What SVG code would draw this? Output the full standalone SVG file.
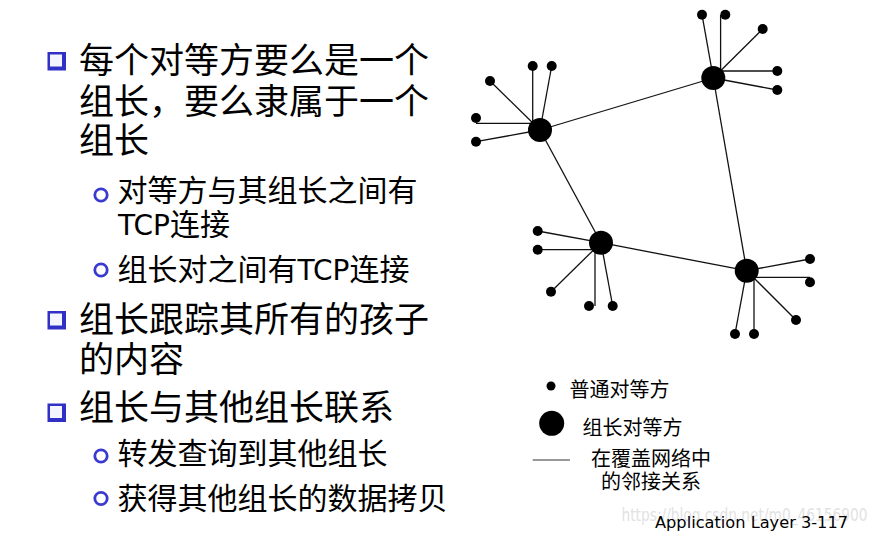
<svg xmlns="http://www.w3.org/2000/svg" width="879" height="535" viewBox="0 0 879 535">
<style>
.main{font-family:"Noto Sans CJK SC","Noto Sans",sans-serif;font-size:35px;fill:#000}
.sub{font-family:"Noto Sans CJK SC","Noto Sans",sans-serif;font-size:30px;fill:#000}
.lat{font-family:"DejaVu Sans","Noto Sans CJK SC",sans-serif;font-size:28px}
.leg{font-family:"Noto Sans CJK SC","Noto Sans",sans-serif;font-size:20px;fill:#000}
.foot{font-family:"DejaVu Sans",sans-serif;font-size:15px;fill:#000}
.wm{font-family:"DejaVu Sans",sans-serif;font-size:17px;fill:#e2e2e2}
.sqo{fill:#3030c4}
.sqi{fill:#f4f4ff}
.cb{fill:#fff;stroke:#3a3ad0;stroke-width:2.8}
.edge{stroke:#111;stroke-width:1.3;fill:none}
.leaf{fill:#000}
.lead{fill:#000}
</style>
<defs>
<g id="sq"><rect class="sqo" x="0" y="0" width="18.5" height="18.5"/><rect class="sqi" x="2.5" y="2.5" width="12" height="12"/></g>
<circle id="cbul" class="cb" cx="0" cy="0" r="6.2"/>
</defs>

<g id="bullets-text">
<use href="#sq" x="47.5" y="52"/>
<text class="main" x="79" y="73">每个对等方要么是一个</text>
<text class="main" x="79" y="114">组长，要么隶属于一个</text>
<text class="main" x="79" y="153">组长</text>

<use href="#cbul" x="101" y="195"/>
<text class="sub" x="117.5" y="200.5">对等方与其组长之间有</text>
<text class="sub" x="118" y="234.5"><tspan class="lat">TCP</tspan>连接</text>

<use href="#cbul" x="101" y="270"/>
<text class="sub" x="117.5" y="279.5">组长对之间有<tspan class="lat">TCP</tspan>连接</text>

<use href="#sq" x="47.5" y="311"/>
<text class="main" x="79" y="332">组长跟踪其所有的孩子</text>
<text class="main" x="79" y="372">的内容</text>

<use href="#sq" x="47.5" y="403.5"/>
<text class="main" x="79" y="420">组长与其他组长联系</text>

<use href="#cbul" x="101" y="456"/>
<text class="sub" x="117.5" y="464">转发查询到其他组长</text>

<use href="#cbul" x="101" y="498.5"/>
<text class="sub" x="117.5" y="509">获得其他组长的数据拷贝</text>
</g>

<g id="connectors">
<line class="edge" x1="540" y1="130" x2="713.3" y2="78"/>
<line class="edge" x1="540" y1="130" x2="601" y2="242.7"/>
<line class="edge" x1="713.3" y1="78" x2="746.7" y2="270.7"/>
<line class="edge" x1="601" y1="242.7" x2="746.7" y2="270.7"/>

<line class="edge" x1="490" y1="81" x2="540" y2="130"/>
<line class="edge" x1="532.7" y1="66" x2="532.7" y2="125"/>
<line class="edge" x1="551.7" y1="66" x2="540" y2="130"/>
<line class="edge" x1="476" y1="123.3" x2="536" y2="123.3"/>
<line class="edge" x1="476" y1="141.7" x2="540" y2="130"/>

<line class="edge" x1="702" y1="14.7" x2="713.3" y2="78"/>
<line class="edge" x1="720.6" y1="15" x2="720.6" y2="72"/>
<line class="edge" x1="762.7" y1="29" x2="713.3" y2="78"/>
<line class="edge" x1="713.3" y1="71" x2="777.3" y2="71"/>
<line class="edge" x1="777.3" y1="90" x2="713.3" y2="78"/>

<line class="edge" x1="537.7" y1="231" x2="601" y2="242.7"/>
<line class="edge" x1="537.7" y1="249.7" x2="596" y2="249.7"/>
<line class="edge" x1="551" y1="291.7" x2="601" y2="242.7"/>
<line class="edge" x1="595" y1="248" x2="595" y2="306"/>
<line class="edge" x1="612.7" y1="306" x2="601" y2="242.7"/>

<line class="edge" x1="810" y1="259" x2="746.7" y2="270.7"/>
<line class="edge" x1="746.7" y1="277.3" x2="810" y2="277.3"/>
<line class="edge" x1="796" y1="320" x2="746.7" y2="270.7"/>
<line class="edge" x1="735" y1="334" x2="746.7" y2="270.7"/>
<line class="edge" x1="754" y1="276" x2="754" y2="334"/>
</g>

<g id="leader-A"><circle class="lead" cx="540" cy="130" r="12"/></g>
<g id="leader-B"><circle class="lead" cx="713.3" cy="78" r="12"/></g>
<g id="leader-C"><circle class="lead" cx="601" cy="242.7" r="12"/></g>
<g id="leader-D"><circle class="lead" cx="746.7" cy="270.7" r="12"/></g>

<g id="peer-A1"><circle class="leaf" cx="490" cy="81" r="5"/></g>
<g id="peer-A2"><circle class="leaf" cx="532.7" cy="66" r="5"/></g>
<g id="peer-A3"><circle class="leaf" cx="551.7" cy="66" r="5"/></g>
<g id="peer-A4"><circle class="leaf" cx="476" cy="118" r="5"/></g>
<g id="peer-A5"><circle class="leaf" cx="476" cy="141.7" r="5"/></g>

<g id="peer-B1"><circle class="leaf" cx="702" cy="14.7" r="5"/></g>
<g id="peer-B2"><circle class="leaf" cx="725.3" cy="14.7" r="5"/></g>
<g id="peer-B3"><circle class="leaf" cx="762.7" cy="29" r="5"/></g>
<g id="peer-B4"><circle class="leaf" cx="777.3" cy="71" r="5"/></g>
<g id="peer-B5"><circle class="leaf" cx="777.3" cy="90" r="5"/></g>

<g id="peer-C1"><circle class="leaf" cx="537.7" cy="231" r="5"/></g>
<g id="peer-C2"><circle class="leaf" cx="537.7" cy="249.7" r="5"/></g>
<g id="peer-C3"><circle class="leaf" cx="551" cy="291.7" r="5"/></g>
<g id="peer-C4"><circle class="leaf" cx="589" cy="306" r="5"/></g>
<g id="peer-C5"><circle class="leaf" cx="612.7" cy="306" r="5"/></g>

<g id="peer-D1"><circle class="leaf" cx="810" cy="259" r="5"/></g>
<g id="peer-D2"><circle class="leaf" cx="810" cy="282.3" r="5"/></g>
<g id="peer-D3"><circle class="leaf" cx="796" cy="320" r="5"/></g>
<g id="peer-D4"><circle class="leaf" cx="735" cy="334" r="5"/></g>
<g id="peer-D5"><circle class="leaf" cx="754" cy="334" r="5"/></g>

<g id="legend">
<circle cx="551" cy="386" r="4.5" fill="#000"/>
<text class="leg" x="569.5" y="397">普通对等方</text>
<circle cx="551.7" cy="423.3" r="12.5" fill="#000"/>
<text class="leg" x="582.5" y="435">组长对等方</text>
<line x1="532.7" y1="460" x2="570" y2="460" stroke="#333" stroke-width="1"/>
<text class="leg" x="591" y="466">在覆盖网络中</text>
<text class="leg" x="601" y="489">的邻接关系</text>
</g>

<g id="footer">
<text class="wm" x="621.5" y="521" textLength="246" lengthAdjust="spacingAndGlyphs">https://blog.csdn.net/m0_46156900</text>
<text class="foot" x="655" y="528.3" textLength="193" lengthAdjust="spacingAndGlyphs">Application Layer  3-117</text>
</g>
</svg>
